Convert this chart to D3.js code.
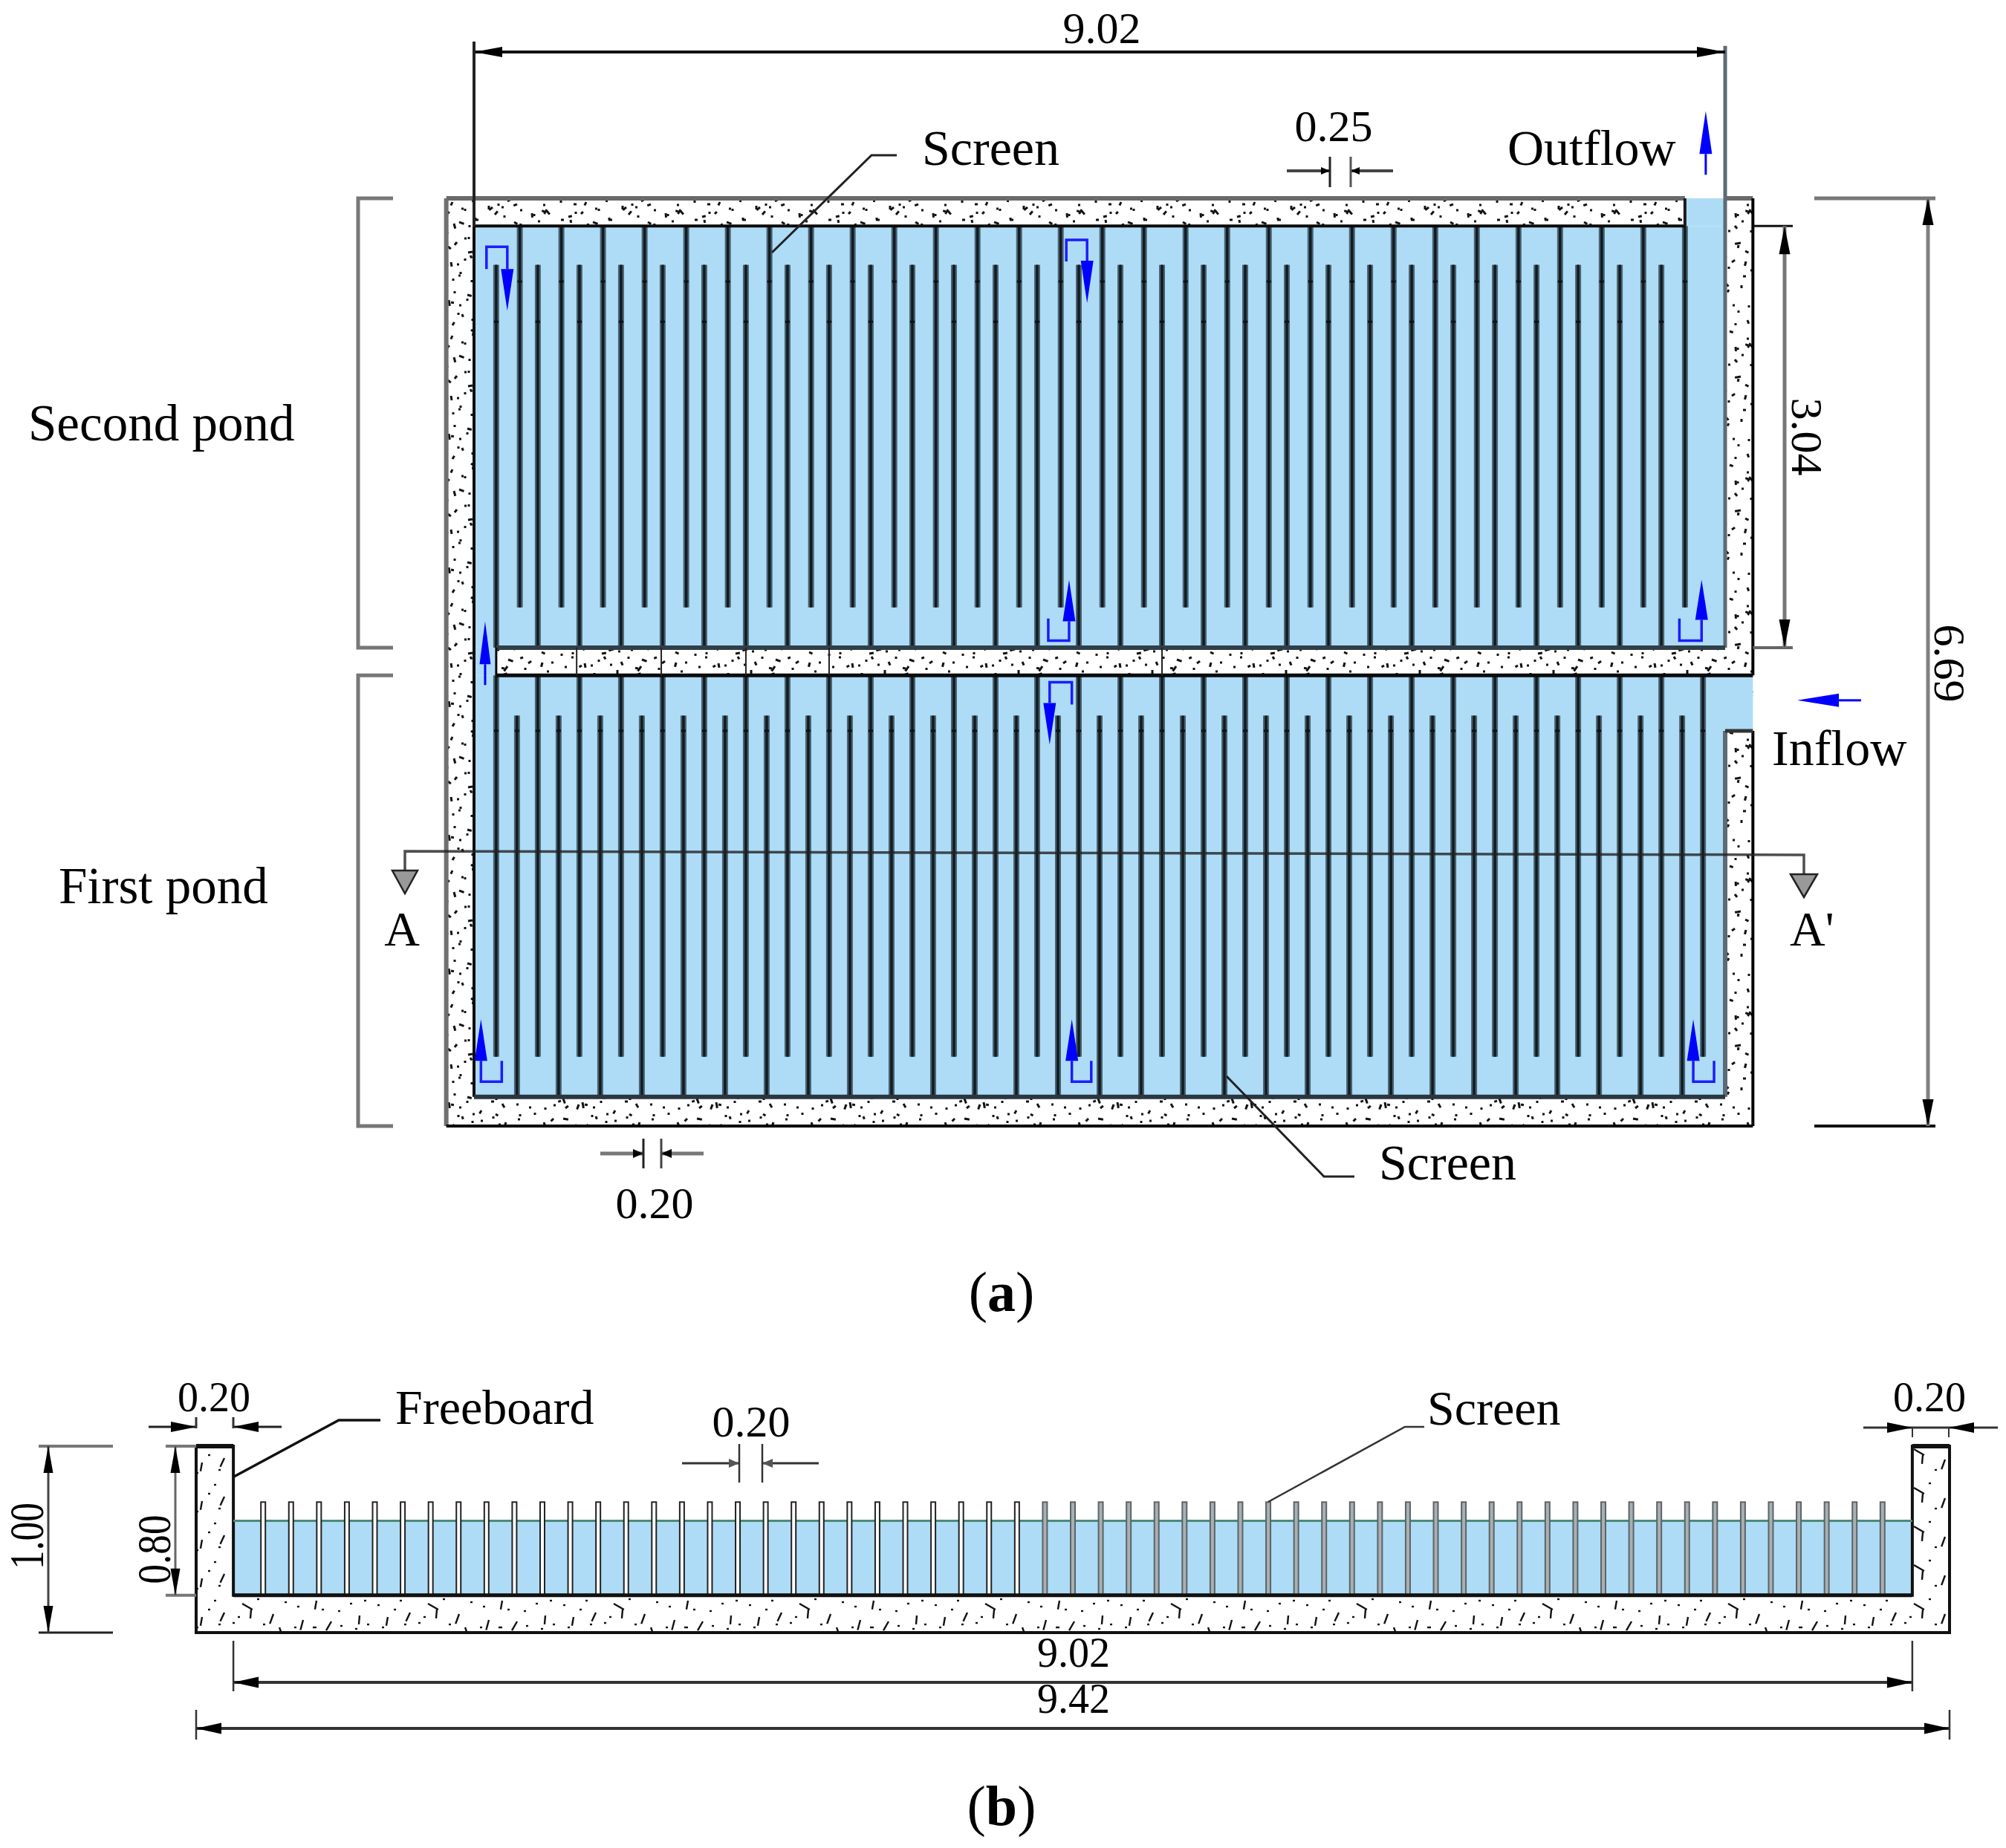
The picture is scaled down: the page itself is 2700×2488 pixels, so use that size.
<!DOCTYPE html>
<html lang="en">
<head>
<meta charset="UTF-8">
<title>Pond plan and section</title>
<script src="https://d3js.org/d3.v7.min.js"></script>
<style>
  body { margin: 0; background: #fff; }
  text { font-family: "Liberation Serif", serif; fill: #000; }
</style>
</head>
<body>
<div id="chart"></div>
<script>
// screens in metres from the inner left wall
const upperTopScreens = [0.33,0.63,0.93,1.23,1.53,1.83,2.13,2.43,2.73,3.03,3.33,3.63,3.93,4.23,4.53,4.83,5.13,5.43,5.73,6.03,6.33,6.63,6.93,7.23,7.53,7.83,8.13,8.43,8.73];
const upperBottomScreens = [0.16,0.46,0.76,1.06,1.36,1.66,1.96,2.26,2.56,2.86,3.16,3.46,3.76,4.06,4.36,4.66,4.96,5.26,5.56,5.86,6.16,6.46,6.76,7.06,7.36,7.66,7.96,8.26,8.56];
const lowerTopScreens = [0.16,0.46,0.76,1.06,1.36,1.66,1.96,2.26,2.56,2.86,3.16,3.46,3.76,4.06,4.36,4.66,4.96,5.26,5.56,5.86,6.16,6.46,6.76,7.06,7.36,7.66,7.96,8.26,8.56,8.86];
const lowerBottomScreens = [0.31,0.61,0.91,1.21,1.51,1.81,2.11,2.41,2.71,3.01,3.31,3.61,3.91,4.21,4.51,4.81,5.11,5.41,5.71,6.01,6.31,6.61,6.91,7.21,7.51,7.81,8.11,8.41,8.71];
const sectionScreens = [0.16,0.31,0.46,0.61,0.76,0.91,1.06,1.21,1.36,1.51,1.66,1.81,1.96,2.11,2.26,2.41,2.56,2.71,2.86,3.01,3.16,3.31,3.46,3.61,3.76,3.91,4.06,4.21,4.36,4.51,4.66,4.81,4.96,5.11,5.26,5.41,5.56,5.71,5.86,6.01,6.16,6.31,6.46,6.61,6.76,6.91,7.06,7.21,7.36,7.51,7.66,7.81,7.96,8.11,8.26,8.41,8.56,8.71,8.86];
const wallJoints = [0.74,1.35,1.96,2.56,4.96];

// blue flow arrows with a bent tail, metres on the plan
const turnLeg = [0.09,4.27,4.14,8.69,4.31,0.20,4.45,8.94];
const turnArrow = [0.24,4.42,4.29,8.85,4.15,0.05,4.31,8.79];
const turnBend = [0.35,0.30,3.19,3.19,3.49,6.37,6.37,6.37];
const turnLegEnd = [0.51,0.455,3.03,3.03,3.65,6.22,6.22,6.22];
const turnBase = [0.51,0.45,3.05,3.04,3.64,6.22,6.22,6.22];
const turnTip = [0.81,0.755,2.75,2.75,3.94,5.92,5.92,5.92];

// concrete speckle tiles: x, y, length, angle
const speckles = [[6,12,4,0],[19,31,7,30],[22,34,4,110],[33,8,4,90],[41,52,5,-40],[58,21,3,0],[64,44,8,80],[67,47,4,10],[77,11,3,0],[89,37,6,15],[96,60,3,0],[110,18,5,60],[121,43,4,0],[136,9,7,-20],[139,12,4,70],[148,33,3,0],[163,22,5,45],[172,51,3,0],[12,71,5,70],[27,88,3,0],[38,66,7,10],[52,95,4,0],[69,78,5,-60],[81,101,3,0],[94,84,8,35],[97,88,4,100],[107,69,3,0],[118,97,5,90],[131,74,3,0],[143,91,6,-30],[157,67,3,0],[168,86,5,20],[4,118,3,0],[16,104,6,50],[30,127,3,0],[45,112,5,-15],[48,116,4,80],[56,136,3,0],[71,121,7,75],[85,141,3,0],[99,116,5,0],[114,132,3,0],[126,109,6,-50],[139,138,3,0],[152,119,5,30],[166,131,3,0],[176,107,6,85],[9,158,5,25],[22,172,3,0],[36,149,7,-70],[49,165,3,0],[63,152,5,40],[75,176,3,0],[90,160,6,-10],[93,164,4,60],[103,147,3,0],[116,171,5,65],[129,155,3,0],[144,168,7,20],[158,150,3,0],[171,173,5,-35],[25,48,3,0],[47,30,3,0],[101,28,3,90],[127,60,4,30],[155,47,3,0],[11,96,3,0],[62,108,4,-45],[92,123,3,90],[135,99,3,0],[160,103,3,0],[40,178,3,0],[82,63,4,70],[112,157,3,0],[148,146,3,90],[18,141,3,0]];
const sectionSpeckles = [[8,14,3,0],[22,30,12,100],[38,8,3,0],[52,24,13,115],[63,38,3,0],[76,12,16,30],[88,20,12,95],[104,40,3,0],[118,26,14,110],[133,10,3,0],[146,44,3,0],[158,34,14,105],[171,44,5,0],[183,20,3,0],[196,36,14,120],[208,42,3,0],[221,12,3,0],[234,28,12,95],[244,40,3,0],[14,44,3,0],[44,40,3,0],[70,30,3,0],[126,44,10,70],[150,16,3,0],[176,8,12,100],[205,22,3,0],[228,46,3,0],[96,6,3,0],[30,20,3,0],[240,8,3,0]];

const width = 2700, height = 2488;
const water = "#aedcf6";

// plan (a) and section (b) are both to scale, in metres
const xA = d3.scaleLinear().domain([0, 9.02]).range([638, 2322]);
const yA = d3.scaleLinear().domain([0, 6.69]).range([267, 1516]);
const xB = d3.scaleLinear().domain([0, 9.42]).range([264, 2624]);
const yB = d3.scaleLinear().domain([0, 1]).range([1947, 2198]);

const svg = d3.select("#chart").append("svg")
    .attr("width", width).attr("height", height)
    .style("display", "block");

const defs = svg.append("defs");
function tile(id, w, h, list, sw, transform) {
    const p = defs.append("pattern").attr("id", id)
        .attr("patternUnits", "userSpaceOnUse")
        .attr("width", w).attr("height", h);
    if (transform) p.attr("patternTransform", transform);
    p.selectAll("line").data(list).join("line")
        .attr("x1", d => d[0]).attr("y1", d => d[1])
        .attr("x2", d => d[0] + d[2] * Math.cos(d[3] * Math.PI / 180))
        .attr("y2", d => d[1] + d[2] * Math.sin(d[3] * Math.PI / 180))
        .attr("stroke", "#111").attr("stroke-width", sw);
}
tile("concreteA", 180, 180, speckles, 3);
tile("concreteA2", 180, 180, speckles, 3, "translate(47,83) rotate(90)");
tile("concreteB", 250, 52, sectionSpeckles, 2.4, "translate(0,2147)");

function line(g, x1, y1, x2, y2, color, w) {
    return g.append("line").attr("x1", x1).attr("y1", y1).attr("x2", x2).attr("y2", y2)
        .attr("stroke", color).attr("stroke-width", w);
}
// triangle head with its tip at x,y pointing along dx,dy
function head(g, x, y, dx, dy, len, w, color) {
    const bx = x - dx * len, by = y - dy * len;
    const px = -dy * w / 2, py = dx * w / 2;
    return g.append("path")
        .attr("d", `M${x},${y}L${bx + px},${by + py}L${bx - px},${by - py}Z`)
        .attr("fill", color || "#000");
}
function label(s, x, y, size, anchor) {
    return svg.append("text").attr("x", x).attr("y", y)
        .attr("font-size", size).attr("text-anchor", anchor || "start").text(s);
}
function turned(s, x, y, angle, size, len) {
    const t = svg.append("text").attr("font-size", size).attr("text-anchor", "middle")
        .attr("transform", `translate(${x},${y}) rotate(${angle})`).text(s);
    if (len) t.attr("textLength", len).attr("lengthAdjust", "spacingAndGlyphs");
    return t;
}

// ---- plan (a) ----
const plan = svg.append("g");
["concreteA", "concreteA2"].forEach(id => {
    plan.append("rect").attr("x", xA(-0.2)).attr("y", yA(0))
        .attr("width", xA(9.22) - xA(-0.2)).attr("height", yA(6.69) - yA(0))
        .attr("fill", `url(#${id})`);
});

// water area
const waterRects = [
    [0, 0.20, 9.02, 3.24],
    [8.73, 0, 9.02, 0.20],
    [0, 3.24, 0.16, 3.44],
    [0, 3.44, 9.02, 6.48],
    [9.02, 3.44, 9.22, 3.84]
];
plan.selectAll("rect.water").data(waterRects).join("rect")
    .attr("class", "water").attr("fill", water)
    .attr("x", d => xA(d[0])).attr("y", d => yA(d[1]))
    .attr("width", d => xA(d[2]) - xA(d[0])).attr("height", d => yA(d[3]) - yA(d[1]));

// screens
function screens(list, y0, y1) {
    const g = plan.append("g");
    g.selectAll("rect").data(list).join("rect")
        .attr("x", d => xA(d) - 4).attr("y", yA(y0))
        .attr("width", 8).attr("height", yA(y1) - yA(y0)).attr("fill", "#4a6170");
    g.selectAll("line").data(list).join("line")
        .attr("x1", d => xA(d)).attr("x2", d => xA(d))
        .attr("y1", yA(y0)).attr("y2", yA(y1))
        .attr("stroke", "#101c22").attr("stroke-width", 3.5);
}
screens(upperTopScreens, 0.20, 2.95);
screens(upperBottomScreens, 0.48, 3.24);
screens(lowerTopScreens, 3.44, 6.19);
screens(lowerBottomScreens, 3.73, 6.48);

// small knots where the screens are joined
function knots(list, y) {
    plan.append("g").selectAll("rect").data(list).join("rect")
        .attr("x", d => xA(d) - 3).attr("y", yA(y) - 1.5).attr("width", 6).attr("height", 3)
        .attr("fill", "#111");
}
knots(upperTopScreens, 0.60);
knots(upperBottomScreens, 0.89);
knots(lowerTopScreens, 3.84);
knots(lowerBottomScreens, 3.84);

// walls
line(plan, xA(-0.2), yA(0), xA(-0.2), yA(6.69), "#707070", 6);
line(plan, xA(-0.2), yA(0), xA(8.73), yA(0), "#6a6a6a", 6);
line(plan, xA(9.02), yA(0), xA(9.22), yA(0), "#6a6a6a", 6);
line(plan, xA(9.22), yA(0), xA(9.22), yA(3.44), "#000", 4);
line(plan, xA(9.22), yA(3.84), xA(9.22), yA(6.69), "#000", 4);
line(plan, xA(-0.2), yA(6.69), xA(9.22), yA(6.69), "#000", 4);
line(plan, xA(0), yA(0.20), xA(0), yA(6.48), "#0a0a0a", 4);
line(plan, xA(0), yA(0.20), xA(8.73), yA(0.20), "#0a0a0a", 4);
line(plan, xA(8.73), yA(0), xA(8.73), yA(0.20), "#1a1a1a", 4);
line(plan, xA(9.02), yA(-1.1), xA(9.02), yA(3.24), "#5c6b75", 5);
line(plan, xA(0.16), yA(3.24), xA(9.02), yA(3.24), "#2f3f49", 6);
line(plan, xA(0.16), yA(3.44), xA(9.22), yA(3.44), "#0a0a0a", 5);
line(plan, xA(0.16), yA(3.24), xA(0.16), yA(3.44), "#0a0a0a", 3);
line(plan, xA(9.02), yA(3.84), xA(9.02), yA(6.48), "#5c6b75", 6);
line(plan, xA(9.02), yA(3.84), xA(9.22), yA(3.84), "#333", 5);
line(plan, xA(0), yA(6.48), xA(9.02), yA(6.48), "#2a3740", 6);
plan.append("g").selectAll("line").data(wallJoints).join("line")
    .attr("x1", d => xA(d)).attr("x2", d => xA(d))
    .attr("y1", yA(3.24)).attr("y2", yA(3.44))
    .attr("stroke", "#222").attr("stroke-width", 2);

// section line A-A'
const cut = svg.append("g");
cut.append("path").attr("d", "M545,1172V1146L2428,1151V1178")
    .attr("fill", "none").attr("stroke", "#222").attr("stroke-width", 3.5).attr("stroke-opacity", 0.8);
[[545,1172,1203,34],[2428,1177,1208,36]].forEach(d => {
    cut.append("path").attr("d", `M${d[0] - d[3] / 2},${d[1]}H${d[0] + d[3] / 2}L${d[0]},${d[2]}Z`)
        .attr("fill", "#999").attr("stroke", "#222").attr("stroke-width", 2.5);
});

// flow arrows
const flow = svg.append("g");
turnLeg.forEach((leg, i) => {
    const dir = turnTip[i] > turnBase[i] ? 1 : -1;
    flow.append("path")
        .attr("d", `M${xA(leg)},${yA(turnLegEnd[i])}V${yA(turnBend[i])}H${xA(turnArrow[i])}V${yA(turnBase[i])}`)
        .attr("fill", "none").attr("stroke", "#1c1cff").attr("stroke-width", 3.5);
    head(flow, xA(turnArrow[i]), yA(turnTip[i]), 0, dir, Math.abs(yA(turnTip[i]) - yA(turnBase[i])), 17, "#0000ff");
});
line(flow, xA(0.08), yA(3.51), xA(0.08), yA(3.36), "#0000ff", 3);
head(flow, xA(0.08), yA(3.05), 0, -1, yA(3.36) - yA(3.05), 15, "#0000ff");
line(flow, xA(8.88), yA(-0.17), xA(8.88), yA(-0.32), "#0000ff", 3);
head(flow, xA(8.88), yA(-0.63), 0, -1, yA(-0.32) - yA(-0.63), 17, "#0000ff");
line(flow, xA(10.0), yA(3.62), xA(9.84), yA(3.62), "#0000ff", 3);
head(flow, xA(9.54), yA(3.62), -1, 0, xA(9.84) - xA(9.54), 18, "#0000ff");

// dimensions of the plan
const dim = svg.append("g");
line(dim, xA(0), 70, xA(9.02), 70, "#111", 4);
head(dim, xA(0), 70, -1, 0, 38, 14);
head(dim, xA(9.02), 70, 1, 0, 38, 14);
line(dim, xA(0), 56, xA(0), yA(0.2), "#222", 4);
line(dim, 1732, 230, 1790, 230, "#444", 4);
line(dim, 1818, 230, 1875, 230, "#444", 4);
head(dim, 1790, 230, 1, 0, 12, 10);
head(dim, 1818, 230, -1, 0, 12, 10);
line(dim, 1790, 211, 1790, 252, "#222", 3);
line(dim, 1818, 211, 1818, 252, "#555", 3);
line(dim, 808, 1553, 866, 1553, "#777", 5);
line(dim, 890, 1553, 947, 1553, "#777", 5);
head(dim, 866, 1553, 1, 0, 14, 12);
head(dim, 890, 1553, -1, 0, 14, 12);
line(dim, 866, 1533, 866, 1573, "#222", 3);
line(dim, 890, 1533, 890, 1573, "#444", 3);
// 3.04
line(dim, xA(9.22), yA(0.2), 2413, yA(0.2), "#111", 3);
line(dim, xA(9.22), yA(3.24), 2413, yA(3.24), "#666", 4);
line(dim, 2402, yA(0.2), 2402, yA(3.24), "#777", 5);
head(dim, 2402, yA(0.2), 0, -1, 38, 15);
head(dim, 2402, yA(3.24), 0, 1, 38, 15);
// 6.69
line(dim, 2442, yA(0), 2605, yA(0), "#777", 5);
line(dim, 2442, yA(6.69), 2605, yA(6.69), "#111", 4);
line(dim, 2595, yA(0), 2595, yA(6.69), "#808080", 5);
head(dim, 2595, yA(0), 0, -1, 36, 15);
head(dim, 2595, yA(6.69), 0, 1, 36, 15);
// pond brackets
dim.append("path").attr("d", `M529,${yA(0)}H482V${yA(3.24)}H529`)
    .attr("fill", "none").attr("stroke", "#777").attr("stroke-width", 5);
dim.append("path").attr("d", `M529,${yA(3.44)}H482V${yA(6.69)}H529`)
    .attr("fill", "none").attr("stroke", "#777").attr("stroke-width", 5);
// leaders
dim.append("path").attr("d", "M1039,340L1173,209H1207").attr("fill", "none").attr("stroke", "#222").attr("stroke-width", 3);
dim.append("path").attr("d", "M1651,1449L1782,1584H1823").attr("fill", "none").attr("stroke", "#222").attr("stroke-width", 3);

label("9.02", 1483, 58, 60, "middle");
label("0.25", 1795, 190, 60, "middle");
label("Screen", 1241, 222, 68);
label("Outflow", 2029, 222, 68);
label("Second pond", 38, 593, 69);
label("First pond", 79, 1216, 69);
label("Inflow", 2385, 1030, 68);
label("A", 541, 1273, 66, "middle");
label("A'", 2409, 1273, 66);
label("Screen", 1856, 1588, 68);
label("0.20", 881, 1640, 60, "middle");
turned("3.04", 2412, 588, 90, 60);
turned("6.69", 2604, 893, 90, 60);

// caption (a), bold letter only
const capA = label("(", 1348, 1765, 76, "middle");
capA.append("tspan").attr("font-weight", "bold").text("a");
capA.append("tspan").text(")");

// ---- section (b) ----
const sec = svg.append("g");
const shell = [[0,0],[0,1],[9.42,1],[9.42,0],[9.22,0],[9.22,0.8],[0.2,0.8],[0.2,0]];
const shellPath = "M" + shell.map(d => xB(d[0]) + "," + yB(d[1])).join("L") + "Z";
sec.append("path").attr("d", shellPath).attr("fill", "url(#concreteB)");
sec.append("rect").attr("x", xB(0.2)).attr("y", yB(0.4))
    .attr("width", xB(9.22) - xB(0.2)).attr("height", yB(0.8) - yB(0.4)).attr("fill", water);
sec.append("path").attr("d", shellPath).attr("fill", "none").attr("stroke", "#111").attr("stroke-width", 4);
line(sec, xB(0), yB(0), xB(0.2), yB(0), "#111", 6);
line(sec, xB(9.22), yB(0), xB(9.42), yB(0), "#111", 6);
line(sec, xB(0.2), yB(0.4), xB(9.22), yB(0.4), "#4d8a78", 3);
sec.selectAll("rect.screen").data(sectionScreens).join("rect")
    .attr("class", "screen")
    .attr("x", d => xB(0.2 + d) - 3).attr("y", yB(0.3))
    .attr("width", 6).attr("height", yB(0.8) - yB(0.3))
    .attr("fill", d => d < 4.3 ? "#fff" : "#a8b0b4")
    .attr("stroke", d => d < 4.3 ? "#222" : "#5c6468").attr("stroke-width", 2);
line(sec, xB(0.2), yB(0.8), xB(9.22), yB(0.8), "#111", 5);

// dimensions of the section
const dimB = svg.append("g");
// 0.20 left
line(dimB, 200, 1921, 264, 1921, "#222", 3);
line(dimB, 314, 1921, 379, 1921, "#222", 3);
head(dimB, 264, 1921, 1, 0, 34, 14);
head(dimB, 314, 1921, -1, 0, 34, 14);
line(dimB, 264, 1908, 264, 1923, "#333", 3);
line(dimB, 314, 1908, 314, 1923, "#333", 3);
// 0.20 middle
line(dimB, 918, 1970, 995, 1970, "#333", 3);
line(dimB, 1026, 1970, 1102, 1970, "#333", 3);
head(dimB, 995, 1970, 1, 0, 14, 12, "#555");
head(dimB, 1026, 1970, -1, 0, 14, 12, "#555");
line(dimB, 995, 1944, 995, 1996, "#333", 2.5);
line(dimB, 1026, 1944, 1026, 1996, "#333", 2.5);
// 0.20 right
line(dimB, 2508, 1922, 2689, 1922, "#333", 3);
head(dimB, 2574, 1922, 1, 0, 34, 14);
head(dimB, 2623, 1922, -1, 0, 34, 14);
line(dimB, 2574, 1922, 2574, 1935, "#333", 2);
line(dimB, 2623, 1922, 2623, 1935, "#333", 2);
// 1.00 and 0.80
line(dimB, 52, yB(0), 152, yB(0), "#777", 4);
line(dimB, 52, yB(1), 152, yB(1), "#222", 3);
line(dimB, 65, yB(0), 65, yB(1), "#444", 3);
head(dimB, 65, yB(0), 0, -1, 36, 13);
head(dimB, 65, yB(1), 0, 1, 36, 13);
line(dimB, 223, yB(0), 264, yB(0), "#777", 4);
line(dimB, 223, yB(0.8), 264, yB(0.8), "#777", 4);
line(dimB, 236, yB(0), 236, yB(0.8), "#666", 3);
head(dimB, 236, yB(0), 0, -1, 36, 13);
head(dimB, 236, yB(0.8), 0, 1, 36, 13);
// 9.02 and 9.42
line(dimB, xB(0.2), 2265, xB(9.22), 2265, "#333", 4);
head(dimB, xB(0.2), 2265, -1, 0, 34, 15);
head(dimB, xB(9.22), 2265, 1, 0, 34, 15);
line(dimB, xB(0.2), 2209, xB(0.2), 2277, "#333", 2.5);
line(dimB, xB(9.22), 2209, xB(9.22), 2277, "#333", 2.5);
line(dimB, xB(0), 2327, xB(9.42), 2327, "#333", 4);
head(dimB, xB(0), 2327, -1, 0, 34, 15);
head(dimB, xB(9.42), 2327, 1, 0, 34, 15);
line(dimB, xB(0), 2302, xB(0), 2342, "#333", 2.5);
line(dimB, xB(9.42), 2302, xB(9.42), 2342, "#333", 2.5);
// leaders
dimB.append("path").attr("d", "M315,1988L456,1912H512").attr("fill", "none").attr("stroke", "#111").attr("stroke-width", 3.5);
dimB.append("path").attr("d", "M1707,2022L1891,1921H1917").attr("fill", "none").attr("stroke", "#333").attr("stroke-width", 2.5);

label("0.20", 288, 1900, 56, "middle");
label("Freeboard", 532, 1917, 66);
label("0.20", 1011, 1934, 60, "middle");
label("Screen", 1921, 1918, 66);
label("0.20", 2597, 1900, 56, "middle");
label("9.02", 1445, 2244, 56, "middle");
label("9.42", 1445, 2306, 56, "middle");
turned("1.00", 58, 2068, -90, 66, 90);
turned("0.80", 229, 2086, -90, 64, 93);

const capB = label("(", 1348, 2457, 76, "middle");
capB.append("tspan").attr("font-weight", "bold").text("b");
capB.append("tspan").text(")");
</script>
</body>
</html>
